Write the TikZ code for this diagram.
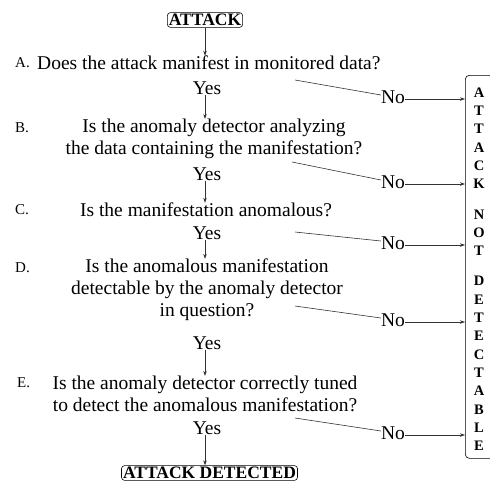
\documentclass[tikz,border=0pt]{standalone}
\usepackage{fontspec}
\setmainfont{Liberation Serif}
\usetikzlibrary{arrows.meta}
\begin{document}
\begin{tikzpicture}[x=1pt,y=-1pt,
  q/.style={font=\fontsize{19.5}{22}\selectfont, align=center, inner sep=0pt},
  lab/.style={font=\fontsize{15}{18}\selectfont, inner sep=0pt, anchor=west},
  ans/.style={font=\fontsize{19.5}{22}\selectfont, inner sep=0pt},
  termbox/.style={draw, rounded corners=3pt, font=\bfseries\fontsize{17.5}{20}\selectfont, inner sep=1.5pt, line width=0.6pt},
  conn/.style={draw=black!80, line width=0.6pt},
  arr/.style={conn, -{Stealth[length=5pt,width=3.5pt]}}
]
\useasboundingbox (0,0) rectangle (490,485);

% start box
\node[termbox] (top) at (205,20) {ATTACK};

% questions
\node[lab] (lA) at (15,63) {A.};
\node[q, anchor=west] (qA) at (37,63) {Does the attack manifest in monitored data?};
\node[ans] (yA) at (207,88) {Yes};

\node[lab] (lB) at (15,128) {B.};
\node[q] (qB) at (214,139) {Is the anomaly detector analyzing\\the data containing the manifestation?};
\node[ans] (yB) at (207,174) {Yes};

\node[lab] (lC) at (15,210) {C.};
\node[q] (qC) at (206,210) {Is the manifestation anomalous?};
\node[ans] (yC) at (207,233) {Yes};

\node[lab] (lD) at (15,268) {D.};
\node[q] (qD) at (207,290) {Is the anomalous manifestation\\detectable by the anomaly detector\\in question?};
\node[ans] (yD) at (207,343) {Yes};

\node[lab] (lE) at (17,383) {E.};
\node[q] (qE) at (205,394) {Is the anomaly detector correctly tuned\\to detect the anomalous manifestation?};
\node[ans] (yE) at (207,428) {Yes};

\node[termbox] (det) at (209.5,473) {ATTACK DETECTED};

% right box
\node[draw, rounded corners=4pt, line width=0.6pt, minimum width=60pt, minimum height=383pt, anchor=north west, inner sep=0pt] (nd) at (465,75) {};
\node[font=\bfseries\fontsize{14.5}{18.3}\selectfont, align=center, inner sep=0pt, anchor=north] (ndtext) at (479,87.5)
  {A\\T\\T\\A\\C\\K\\[12pt]N\\O\\T\\[12pt]D\\E\\T\\E\\C\\T\\A\\B\\L\\E};

% No labels
\node[ans] (nA) at (393,97) {No};
\node[ans] (nB) at (393,182) {No};
\node[ans] (nC) at (393,243) {No};
\node[ans] (nD) at (393,320) {No};
\node[ans] (nE) at (393,433) {No};

\coordinate (sA) at (295,80);
\coordinate (sB) at (292,162);
\coordinate (sC) at (295,232);
\coordinate (sD) at (295,306);
\coordinate (sE) at (295,418);

% vertical flow
\draw[arr] (top.south) -- (top.south |- qA.north);
\draw[arr] (top.south |- yA.south) -- (top.south |- qB.north);
\draw[arr] (top.south |- yB.south) -- (top.south |- qC.north);
\draw[arr] (top.south |- yC.south) -- (top.south |- qD.north);
\draw[arr] (top.south |- yD.south) -- (top.south |- qE.north);
\draw[arr] (top.south |- yE.south) -- (top.south |- det.north);

% No branches
\foreach \n in {A,B,C,D,E}{
  \draw[conn] (s\n) -- ([yshift=2pt]n\n.west);
  \draw[arr] ([yshift=-2pt]n\n.east) -- ([yshift=-2pt]n\n.east -| nd.west);
}
\end{tikzpicture}
\end{document}
